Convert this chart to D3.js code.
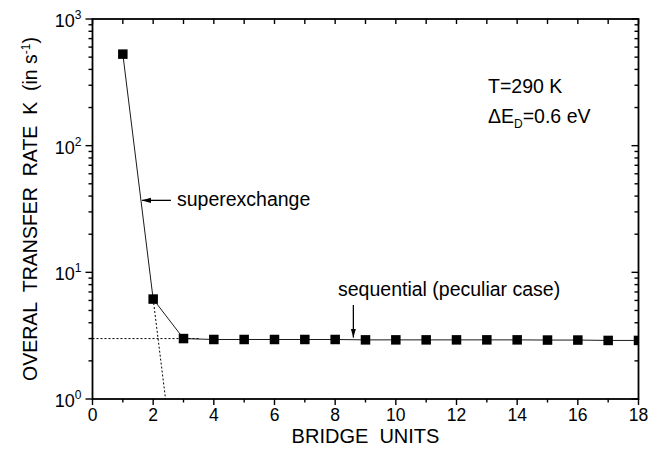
<!DOCTYPE html>
<html>
<head>
<meta charset="utf-8">
<script src="https://cdn.jsdelivr.net/npm/d3@7"></script>
<style>
  body { margin: 0; background: #fff; }
  text { font-family: "Liberation Sans", Arial, Helvetica, sans-serif; fill: #000; white-space: pre; }
</style>
</head>
<body>
<div id="chart"></div>
<script>
// Bridge units and overall transfer rate (s^-1)
const bridgeUnits = [1, 2, 3, 4, 5, 6, 7, 8, 9, 10, 11, 12, 13, 14, 15, 16, 17, 18];
const rates = [528, 6.15, 3.0, 2.95, 2.95, 2.95, 2.95, 2.95, 2.93, 2.93, 2.93, 2.93, 2.93, 2.93, 2.92, 2.92, 2.9, 2.9];
const xTicks = [0, 2, 4, 6, 8, 10, 12, 14, 16, 18];
const yDecades = [0, 1, 2, 3];
const sequentialLevel = 3.0;   // dotted plateau level
const plateauEnd = 3.55;       // where the dotted plateau ends
const seqArrowX = 8.6;
const seLevel = 37;            // where the superexchange arrow hits the line

const W = 650, H = 459;
const M = { left: 92.5, right: 11.5, top: 19, bottom: 60 };

const svg = d3.select('#chart').append('svg')
  .attr('width', W)
  .attr('height', H);

const x = d3.scaleLinear().domain([0, 18]).range([M.left, W - M.right]);
const y = d3.scaleLog().domain([1, 1000]).range([H - M.bottom, M.top]);

const x0 = x.range()[0], x1 = x.range()[1];
const y0 = y.range()[0], y1 = y.range()[1];

// clip for data
svg.append('clipPath').attr('id', 'plotclip')
  .append('rect')
  .attr('x', x0).attr('y', y1)
  .attr('width', x1 - x0).attr('height', y0 - y1);

const plot = svg.append('g').attr('clip-path', 'url(#plotclip)');

// Dotted guides
plot.append('line')
  .attr('x1', x0).attr('x2', x(plateauEnd))
  .attr('y1', y(sequentialLevel)).attr('y2', y(sequentialLevel))
  .attr('stroke', '#000').attr('stroke-width', 1)
  .attr('stroke-dasharray', '2,2');

// extrapolation of superexchange line down to K = 1
const slope = (Math.log10(rates[1]) - Math.log10(rates[0])) / (bridgeUnits[1] - bridgeUnits[0]);
const xAtOne = bridgeUnits[1] - Math.log10(rates[1]) / slope;
plot.append('line')
  .attr('x1', x(bridgeUnits[1])).attr('y1', y(rates[1]))
  .attr('x2', x(xAtOne)).attr('y2', y(1))
  .attr('stroke', '#000').attr('stroke-width', 1)
  .attr('stroke-dasharray', '2,2');

// Data line
const pts = bridgeUnits.map((b, i) => [b, rates[i]]);
plot.append('path')
  .datum(pts)
  .attr('fill', 'none')
  .attr('stroke', '#000')
  .attr('stroke-width', 0.9)
  .attr('d', d3.line().x(d => x(d[0])).y(d => y(d[1])));

// Markers
const S = 9.5;
plot.selectAll('.marker')
  .data(pts)
  .enter().append('rect')
    .attr('class', 'marker')
    .attr('x', d => x(d[0]) - S / 2)
    .attr('y', d => y(d[1]) - S / 2)
    .attr('width', S)
    .attr('height', S)
    .attr('fill', '#000');

// Frame
svg.append('rect')
  .attr('x', x0).attr('y', y1)
  .attr('width', x1 - x0).attr('height', y0 - y1)
  .attr('fill', 'none').attr('stroke', '#000').attr('stroke-width', 1.8);

// Bottom axis (outward ticks)
const xMinor = d3.range(0, 19);
svg.selectAll('.xtick')
  .data(xMinor)
  .enter().append('line')
    .attr('x1', d => x(d)).attr('x2', d => x(d))
    .attr('y1', y0).attr('y2', d => y0 + (d % 2 === 0 ? 6 : 3.5))
    .attr('stroke', '#000').attr('stroke-width', 1.4);

// Top axis (inward ticks)
svg.selectAll('.xtick-top')
  .data(xMinor)
  .enter().append('line')
    .attr('x1', d => x(d)).attr('x2', d => x(d))
    .attr('y1', y1).attr('y2', y1 + 5)
    .attr('stroke', '#000').attr('stroke-width', 1.4);

svg.selectAll('.xlabel')
  .data(xTicks)
  .enter().append('text')
    .attr('x', d => x(d))
    .attr('y', y0 + 22)
    .attr('text-anchor', 'middle')
    .attr('font-size', 17.5)
    .text(d => d);

// Y ticks (log)
const yMinor = [];
for (let e = 0; e < 3; e++) {
  for (let m = 2; m <= 9; m++) yMinor.push(m * Math.pow(10, e));
}
const yMajor = yDecades.map(e => Math.pow(10, e));

// left: outward
svg.selectAll('.ymin-l')
  .data(yMinor)
  .enter().append('line')
    .attr('x1', x0 - 4).attr('x2', x0)
    .attr('y1', d => y(d)).attr('y2', d => y(d))
    .attr('stroke', '#000').attr('stroke-width', 1.4);
svg.selectAll('.ymaj-l')
  .data(yMajor)
  .enter().append('line')
    .attr('x1', x0 - 7).attr('x2', x0)
    .attr('y1', d => y(d)).attr('y2', d => y(d))
    .attr('stroke', '#000').attr('stroke-width', 1.4);

// right: inward
svg.selectAll('.ymin-r')
  .data(yMinor)
  .enter().append('line')
    .attr('x1', x1 - 4).attr('x2', x1)
    .attr('y1', d => y(d)).attr('y2', d => y(d))
    .attr('stroke', '#000').attr('stroke-width', 1.4);
svg.selectAll('.ymaj-r')
  .data(yMajor)
  .enter().append('line')
    .attr('x1', x1 - 7).attr('x2', x1)
    .attr('y1', d => y(d)).attr('y2', d => y(d))
    .attr('stroke', '#000').attr('stroke-width', 1.4);

// Y labels 10^n
const yl = svg.selectAll('.ylabel')
  .data(yDecades)
  .enter().append('text')
    .attr('x', x0 - 11)
    .attr('y', d => y(Math.pow(10, d)) + 8)
    .attr('text-anchor', 'end')
    .attr('font-size', 18);
yl.append('tspan').text('10');
yl.append('tspan')
  .attr('dy', -8)
  .attr('font-size', 12)
  .text(d => d);

// Axis titles
svg.append('text')
  .attr('x', (x0 + x1) / 2)
  .attr('y', H - 16)
  .attr('text-anchor', 'middle')
  .attr('font-size', 20)
  .text('BRIDGE  UNITS');

const yt = svg.append('text')
  .attr('transform', `translate(37,${(y0 + y1) / 2}) rotate(-90)`)
  .attr('text-anchor', 'middle')
  .attr('font-size', 19.5);
yt.append('tspan').text('OVERAL  TRANSFER  RATE  K  (in s');
yt.append('tspan').attr('dy', -7).attr('font-size', 12).text('-1');
yt.append('tspan').attr('dy', 7).text(')');

// Annotations
svg.append('defs').append('marker')
  .attr('id', 'arrow')
  .attr('viewBox', '0 0 12 8')
  .attr('refX', 12).attr('refY', 4)
  .attr('markerWidth', 9).attr('markerHeight', 6)
  .attr('markerUnits', 'userSpaceOnUse')
  .attr('orient', 'auto')
  .append('path')
    .attr('d', 'M0,0.5 L12,4 L0,7.5 Z')
    .attr('fill', '#000');

// superexchange arrow: points to the line
const seX = bridgeUnits[0] + (Math.log10(seLevel) - Math.log10(rates[0])) / slope;
svg.append('line')
  .attr('x1', x(seX) + 30).attr('x2', x(seX) + 1)
  .attr('y1', y(seLevel)).attr('y2', y(seLevel))
  .attr('stroke', '#000').attr('stroke-width', 1.3)
  .attr('marker-end', 'url(#arrow)');
svg.append('text')
  .attr('x', x(seX) + 36)
  .attr('y', y(seLevel) + 6)
  .attr('font-size', 19.5)
  .text('superexchange');

svg.append('line')
  .attr('x1', x(seqArrowX)).attr('x2', x(seqArrowX))
  .attr('y1', 305).attr('y2', y(sequentialLevel) - 1)
  .attr('stroke', '#000').attr('stroke-width', 1.3)
  .attr('marker-end', 'url(#arrow)');
svg.append('text')
  .attr('x', 338)
  .attr('y', 296)
  .attr('font-size', 19.5)
  .text('sequential (peculiar case)');

svg.append('text')
  .attr('x', 488).attr('y', 93)
  .attr('font-size', 19.5)
  .text('T=290 K');
const de = svg.append('text')
  .attr('x', 488).attr('y', 123)
  .attr('font-size', 19.5);
de.append('tspan').text('ΔE');
de.append('tspan').attr('dy', 5).attr('font-size', 12).text('D');
de.append('tspan').attr('dy', -5).text('=0.6 eV');
</script>
</body>
</html>
